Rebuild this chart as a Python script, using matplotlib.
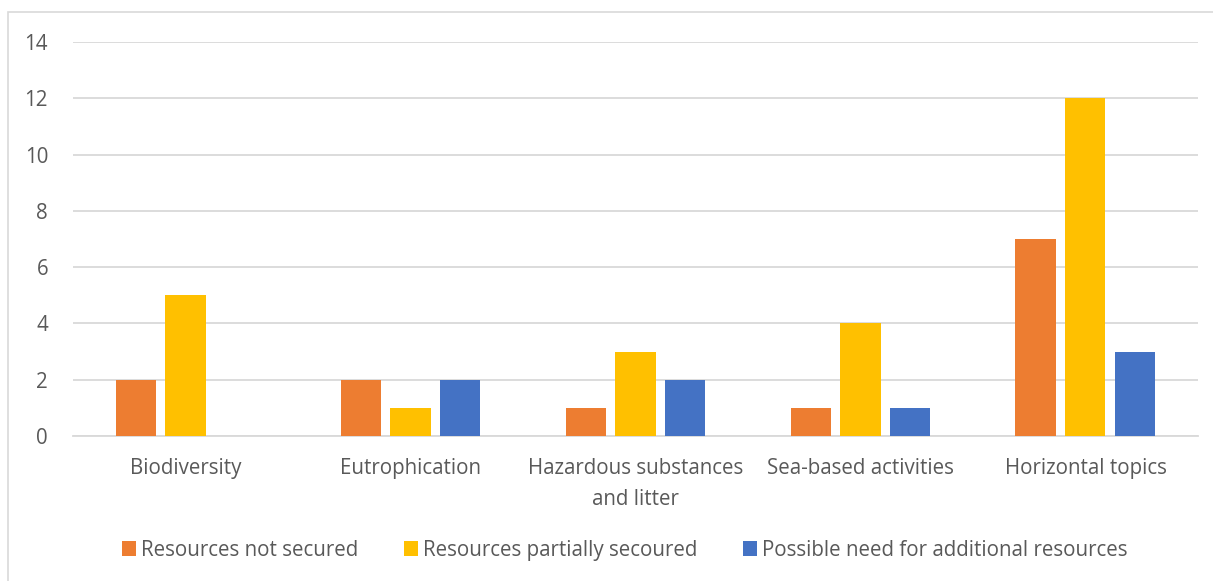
import numpy as np
import matplotlib.pyplot as plt
from matplotlib.patches import Rectangle

plt.rcParams["font.family"] = ["Open Sans", "DejaVu Sans"]

CATEGORIES = [
    "Biodiversity",
    "Eutrophication",
    "Hazardous substances\nand litter",
    "Sea-based activities",
    "Horizontal topics",
]
NOT_SECURED = [2, 2, 1, 1, 7]
PARTIALLY_SECURED = [5, 1, 3, 4, 12]
ADDITIONAL_NEED = [0, 2, 2, 1, 3]
SERIES_NAMES = [
    "Resources not secured",
    "Resources partially secoured",
    "Possible need for additional resources",
]
COLORS = ["#ED7D31", "#FFC000", "#4472C4"]
Y_TICKS = [0, 2, 4, 6, 8, 10, 12, 14]

TEXT_COLOR = "#595959"
GRID_COLOR = "#D9D9D9"
BAR_WIDTH = 0.178
BAR_STEP = 0.222


def plot():
    fig = plt.figure(figsize=(12.13, 5.81), dpi=100)
    ax = fig.add_axes([0.0602, 0.2496, 0.9274, 0.6781])

    # chart frame (only the top and left edges fall inside the canvas)
    fig.patches.append(Rectangle((8 / 1213, -0.1), 1.2, 1.1 - 12 / 581,
                                 transform=fig.transFigure, fill=False,
                                 edgecolor=GRID_COLOR, linewidth=1.2))

    x = np.arange(len(CATEGORIES))
    data = [NOT_SECURED, PARTIALLY_SECURED, ADDITIONAL_NEED]
    handles = []
    for i, (values, name, color) in enumerate(zip(data, SERIES_NAMES, COLORS)):
        b = ax.bar(x + (i - 1) * BAR_STEP, values, BAR_WIDTH, color=color,
                   label=name, zorder=3)
        handles.append(b)

    ax.set_xlim(-0.5, len(CATEGORIES) - 0.5)
    ax.set_ylim(0, 14)
    ax.set_yticks(Y_TICKS)
    ax.set_xticks(x)
    ax.set_xticklabels(CATEGORIES, linespacing=1.6)
    ax.tick_params(axis="both", length=0, colors=TEXT_COLOR, labelsize=14.8)
    ax.tick_params(axis="x", pad=16)
    ax.tick_params(axis="y", pad=18)
    ax.grid(axis="y", color=GRID_COLOR, linewidth=1.3, zorder=0)
    for side in ["top", "left", "right"]:
        ax.spines[side].set_visible(False)
    ax.spines["bottom"].set_color(GRID_COLOR)
    ax.spines["bottom"].set_linewidth(1.3)

    fig.legend(handles=handles, loc="center", bbox_to_anchor=(0.515, 0.053),
               ncol=3, frameon=False, fontsize=14.8, labelcolor=TEXT_COLOR,
               handlelength=0.7, handleheight=0.7, handletextpad=0.25,
               columnspacing=2.2)

    fig.savefig("out.png", dpi=100)


if __name__ == "__main__":
    plot()
